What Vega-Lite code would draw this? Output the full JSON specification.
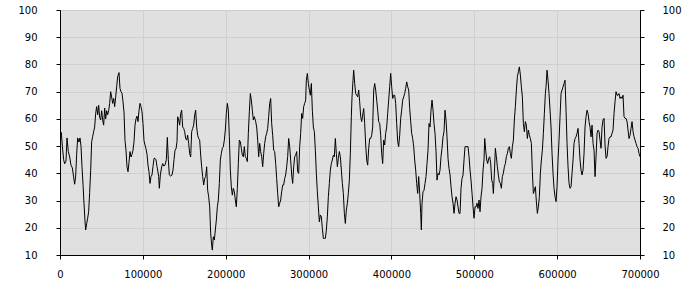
{
  "$schema": "https://vega.github.io/schema/vega-lite/v6.json",
  "width": 580,
  "height": 245,
  "autosize": "none",
  "padding": {"left": 60, "top": 10, "right": 60, "bottom": 45},
  "background": "#ffffff",
  "config": {
    "view": {"fill": "#e0e0e0", "stroke": "#000000", "strokeWidth": 1},
    "axis": {
      "labelFont": "DejaVu Sans",
      "labelFontSize": 10,
      "labelColor": "#000000",
      "domainColor": "#000000",
      "tickColor": "#000000",
      "tickSize": 4,
      "gridColor": "#cfcfcf",
      "gridWidth": 1,
      "gridOpacity": 1,
      "title": null
    }
  },
  "data": {"values": [
    {"x":0,"y":53},{"x":1600,"y":55},{"x":2816,"y":50},{"x":4425,"y":45},{"x":5632,"y":43.5},{"x":7240,"y":44.5},{"x":8450,"y":53},{"x":10060,"y":48},{"x":11670,"y":46},{"x":13275,"y":43},{"x":14885,"y":42},{"x":16490,"y":38.5},{"x":17700,"y":36},{"x":18910,"y":39},{"x":20120,"y":47},{"x":21320,"y":53},{"x":22930,"y":51.5},{"x":24140,"y":53},{"x":25340,"y":50},{"x":26550,"y":42.5},{"x":27760,"y":36},{"x":28960,"y":29},{"x":30170,"y":22.5},{"x":30980,"y":19.2},{"x":32180,"y":21.5},{"x":33390,"y":23.5},{"x":34600,"y":26},{"x":35800,"y":33},{"x":37010,"y":41},{"x":38220,"y":51.6},{"x":39420,"y":53.5},{"x":40630,"y":55.3},{"x":41840,"y":57},{"x":43040,"y":62},{"x":44250,"y":64.5},{"x":45460,"y":61.5},{"x":46670,"y":65},{"x":47870,"y":60.5},{"x":49080,"y":59.6},{"x":50290,"y":63},{"x":51490,"y":59.6},{"x":52700,"y":57.7},{"x":53910,"y":64},{"x":55110,"y":60},{"x":56320,"y":63},{"x":57530,"y":61.5},{"x":58740,"y":63},{"x":59940,"y":65.7},{"x":61150,"y":70},{"x":62360,"y":68},{"x":63560,"y":65.7},{"x":64770,"y":67.5},{"x":65980,"y":64.5},{"x":67180,"y":68},{"x":68390,"y":71.8},{"x":69600,"y":75.5},{"x":71210,"y":77},{"x":72410,"y":71.2},{"x":73620,"y":70},{"x":74830,"y":69.4},{"x":76030,"y":66.3},{"x":77240,"y":62.6},{"x":78450,"y":52},{"x":79650,"y":48.5},{"x":80860,"y":42.5},{"x":82070,"y":40.6},{"x":83270,"y":44},{"x":84480,"y":48},{"x":85690,"y":46},{"x":86900,"y":47},{"x":88100,"y":48.5},{"x":89310,"y":51.6},{"x":90520,"y":57.7},{"x":91720,"y":60},{"x":92930,"y":61},{"x":94140,"y":59},{"x":95340,"y":63},{"x":96550,"y":65.7},{"x":97760,"y":64.5},{"x":98960,"y":62.6},{"x":100170,"y":58.3},{"x":101380,"y":52},{"x":102580,"y":50.4},{"x":103790,"y":49},{"x":105000,"y":47},{"x":106200,"y":43},{"x":107410,"y":40.6},{"x":108620,"y":36.3},{"x":109830,"y":38.8},{"x":111030,"y":39.4},{"x":112240,"y":42.5},{"x":113450,"y":45.5},{"x":114650,"y":45.5},{"x":115860,"y":45},{"x":117070,"y":42.5},
    {"x":117880,"y":41.2},{"x":119090,"y":38.8},{"x":119890,"y":34.5},{"x":121100,"y":39.4},{"x":122710,"y":42.4},{"x":123910,"y":43.6},{"x":125120,"y":42.7},{"x":126730,"y":43},{"x":128340,"y":45},{"x":129550,"y":53.2},{"x":130750,"y":45},{"x":131960,"y":39.4},{"x":133570,"y":39},{"x":135180,"y":39.4},{"x":136380,"y":41.2},{"x":137590,"y":45},{"x":138800,"y":48.5},{"x":140000,"y":49},{"x":141210,"y":51.6},{"x":142020,"y":60.8},{"x":143220,"y":59.6},{"x":144430,"y":57.7},{"x":145640,"y":62},{"x":146840,"y":63.2},{"x":148050,"y":57},{"x":149260,"y":56.5},{"x":150460,"y":55.3},{"x":151670,"y":52.8},{"x":152880,"y":52.2},{"x":154080,"y":54},{"x":155290,"y":51},{"x":156500,"y":47.3},{"x":157710,"y":46},{"x":158910,"y":55.3},{"x":160120,"y":56.5},{"x":161330,"y":57.7},{"x":162530,"y":61.4},{"x":163740,"y":63.2},{"x":164950,"y":57},{"x":166150,"y":54},{"x":167360,"y":52.8},{"x":168570,"y":52.2},{"x":169780,"y":46.7},{"x":170980,"y":42.4},{"x":172190,"y":38.8},{"x":173400,"y":35.7},{"x":174600,"y":38.1},{"x":175810,"y":38.8},{"x":177020,"y":42.4},{"x":178220,"y":33.8},{"x":179430,"y":31.4},{"x":180640,"y":27.7},{"x":181840,"y":18},{"x":183050,"y":13.7},{"x":183860,"y":11.8},{"x":185060,"y":16.7},{"x":186270,"y":15.5},{"x":187480,"y":19.2},{"x":188680,"y":22.8},{"x":189890,"y":27.7},{"x":191100,"y":30.2},{"x":192300,"y":36.3},{"x":193510,"y":44.9},{"x":194720,"y":47.3},{"x":195930,"y":49.2},{"x":197130,"y":49.8},{"x":198340,"y":52.2},{"x":199550,"y":55.9},{"x":200750,"y":62},{"x":201960,"y":65.7},{"x":203170,"y":63.2},{"x":204370,"y":53.4},{"x":205580,"y":41.2},{"x":206790,"y":35},{"x":207990,"y":32},{"x":209200,"y":34.5},{"x":210410,"y":33.2},{"x":211610,"y":30.2},{"x":212820,"y":27.7},{"x":214030,"y":34.5},{"x":215240,"y":43.6},{"x":216440,"y":52.2},{"x":217650,"y":51.6},{"x":218860,"y":49.2},{"x":220060,"y":46.7},{"x":221270,"y":46.1},{"x":222480,"y":49.8},{"x":223680,"y":46.1},{"x":224890,"y":45.5},{"x":226100,"y":44.3},{"x":227300,"y":54.7},{"x":228510,"y":62.6},{"x":229720,"y":69.3},{"x":230930,"y":66.9},{"x":232130,"y":63.2},{"x":233340,"y":59.6},{"x":234550,"y":60.8},
    {"x":236170,"y":59},{"x":237370,"y":57},{"x":238580,"y":52.2},{"x":239790,"y":46.1},{"x":240990,"y":51},{"x":242200,"y":48},{"x":243410,"y":46.1},{"x":244610,"y":42.4},{"x":245820,"y":47.3},{"x":247030,"y":51},{"x":248230,"y":53.4},{"x":249440,"y":54.7},{"x":250650,"y":56.5},{"x":251860,"y":60.8},{"x":253060,"y":65.7},{"x":254270,"y":67.5},{"x":255480,"y":58.3},{"x":256680,"y":54},{"x":257890,"y":48.5},{"x":259100,"y":48},{"x":260300,"y":43.6},{"x":261510,"y":38.1},{"x":262720,"y":32.6},{"x":263920,"y":27.7},{"x":265130,"y":29},{"x":266340,"y":30.2},{"x":267540,"y":33.2},{"x":268750,"y":35.7},{"x":269960,"y":35.7},{"x":271170,"y":38.1},{"x":272370,"y":39.4},{"x":273580,"y":42.4},{"x":274790,"y":46.1},{"x":275990,"y":52.8},{"x":277200,"y":49.8},{"x":278410,"y":44.9},{"x":279610,"y":39.4},{"x":280820,"y":36.3},{"x":282030,"y":42.4},{"x":283230,"y":46.1},{"x":284440,"y":46.7},{"x":285650,"y":48},{"x":286860,"y":40.6},{"x":288060,"y":40},{"x":289270,"y":49.8},{"x":290480,"y":54.7},{"x":291680,"y":62},{"x":292890,"y":60.2},{"x":294100,"y":64.5},{"x":295300,"y":65.7},{"x":296510,"y":66.9},{"x":297310,"y":74.2},{"x":298520,"y":76.7},{"x":299730,"y":73},{"x":300930,"y":70.6},{"x":302140,"y":68.7},{"x":303350,"y":73},{"x":304550,"y":63.2},{"x":305760,"y":57},{"x":306970,"y":55.3},{"x":308180,"y":48.5},{"x":309380,"y":40},{"x":310590,"y":33.2},{"x":311800,"y":27.7},{"x":313000,"y":22.2},{"x":314210,"y":24.7},{"x":315420,"y":24},{"x":316620,"y":19.8},{"x":317830,"y":16.1},{"x":319040,"y":16.1},{"x":320250,"y":16.1},{"x":321450,"y":19.2},{"x":322660,"y":24},{"x":323870,"y":31.4},{"x":325070,"y":36.3},{"x":326280,"y":41.2},{"x":327490,"y":43.6},{"x":328690,"y":44.9},{"x":329900,"y":46.7},{"x":331110,"y":46.1},{"x":332310,"y":52.8},{"x":333520,"y":47.3},{"x":334730,"y":42.4},{"x":335940,"y":45.5},{"x":337140,"y":48},{"x":338350,"y":46.1},{"x":339560,"y":41.2},{"x":340760,"y":36.3},{"x":341970,"y":32.6},{"x":343180,"y":25.3},{"x":344380,"y":21.6},{"x":345590,"y":26.5},{"x":346800,"y":29},{"x":348000,"y":32.6},{"x":349210,"y":37.5},{"x":350420,"y":47.3},{"x":351620,"y":60.8},
    {"x":352440,"y":68.1},{"x":353650,"y":74.2},{"x":354450,"y":77.9},{"x":355660,"y":73},{"x":356870,"y":69.3},{"x":358070,"y":68.7},{"x":359280,"y":68.1},{"x":360490,"y":70.6},{"x":361690,"y":66.3},{"x":362900,"y":60.8},{"x":364110,"y":59},{"x":365310,"y":61.4},{"x":366520,"y":63.8},{"x":367730,"y":58.3},{"x":368940,"y":50.4},{"x":370140,"y":44.9},{"x":371350,"y":43},{"x":372560,"y":49.2},{"x":373760,"y":52.8},{"x":374970,"y":52.8},{"x":376180,"y":54},{"x":377380,"y":57},{"x":378590,"y":70.6},{"x":379800,"y":73},{"x":381000,"y":70.6},{"x":382210,"y":66.9},{"x":383420,"y":63.2},{"x":384620,"y":59},{"x":385830,"y":58.3},{"x":387040,"y":54},{"x":388240,"y":47.3},{"x":389450,"y":43.6},{"x":390660,"y":52.2},{"x":391870,"y":50.4},{"x":393070,"y":54.7},{"x":394280,"y":57},{"x":395490,"y":62},{"x":396690,"y":66.9},{"x":397900,"y":71.8},{"x":399110,"y":76.7},{"x":400310,"y":71.8},{"x":401520,"y":67.5},{"x":402730,"y":68.7},{"x":403930,"y":68.7},{"x":405140,"y":65.7},{"x":406350,"y":58.3},{"x":407560,"y":51.6},{"x":408760,"y":49.8},{"x":409970,"y":54},{"x":411180,"y":60.2},{"x":412380,"y":63.2},{"x":413590,"y":66.9},{"x":414800,"y":68.1},{"x":416000,"y":69.3},{"x":417210,"y":71.2},{"x":418420,"y":73.6},{"x":419620,"y":71.8},{"x":420830,"y":70.6},{"x":422040,"y":63.8},{"x":423250,"y":59},{"x":424450,"y":54.7},{"x":425660,"y":52.8},{"x":426870,"y":49.8},{"x":428070,"y":44.9},{"x":429280,"y":41.2},{"x":430490,"y":36.3},{"x":431690,"y":32.6},{"x":432900,"y":38.8},{"x":434110,"y":32.6},{"x":435310,"y":25.3},{"x":436120,"y":19.2},{"x":436920,"y":29},{"x":438130,"y":33.2},{"x":439340,"y":33.8},{"x":440540,"y":36.3},{"x":441750,"y":38.8},{"x":442960,"y":43.6},{"x":444160,"y":48.5},{"x":445370,"y":58.3},{"x":446580,"y":57},{"x":447780,"y":63.2},{"x":448990,"y":66.9},{"x":450200,"y":63.2},{"x":451410,"y":58.3},{"x":452610,"y":54.7},{"x":453820,"y":48},{"x":455030,"y":37.5},{"x":456230,"y":40},{"x":457440,"y":39.4},{"x":458650,"y":41.2},{"x":459850,"y":46.1},{"x":461060,"y":49.2},{"x":462270,"y":53.4},{"x":463470,"y":55.3},{"x":464680,"y":63.2},{"x":465890,"y":59.6},{"x":467090,"y":53.4},{"x":468300,"y":45.5},
    {"x":469520,"y":41.8},{"x":470730,"y":39.4},{"x":471930,"y":35.1},{"x":473140,"y":31.4},{"x":474350,"y":29},{"x":475560,"y":25.3},{"x":476760,"y":29},{"x":477970,"y":31.4},{"x":479180,"y":30.2},{"x":480380,"y":27.7},{"x":481590,"y":25.3},{"x":482800,"y":25.3},{"x":484000,"y":34.5},{"x":485210,"y":38.1},{"x":486420,"y":39.4},{"x":487620,"y":44.9},{"x":488830,"y":49.8},{"x":490040,"y":49.8},{"x":491240,"y":49.8},{"x":492450,"y":49.8},{"x":493660,"y":46.1},{"x":494870,"y":41.2},{"x":496070,"y":37.5},{"x":497280,"y":32.6},{"x":498490,"y":27.7},{"x":499690,"y":23.5},{"x":500900,"y":27.7},{"x":502110,"y":27.7},{"x":503310,"y":29},{"x":504520,"y":27.1},{"x":505730,"y":30.2},{"x":506930,"y":25.9},{"x":508140,"y":31.4},{"x":509350,"y":34.5},{"x":510560,"y":41.2},{"x":511760,"y":44.9},{"x":512570,"y":52.8},{"x":513770,"y":48.5},{"x":514980,"y":44.9},{"x":516190,"y":43.6},{"x":517390,"y":45.5},{"x":518600,"y":46.1},{"x":519810,"y":43.6},{"x":521010,"y":37.5},{"x":522220,"y":36.3},{"x":523030,"y":32.6},{"x":524230,"y":40},{"x":525440,"y":49.2},{"x":526650,"y":46.1},{"x":527850,"y":42.4},{"x":529060,"y":39.4},{"x":530270,"y":36.9},{"x":531470,"y":36.3},{"x":532680,"y":34.5},{"x":533890,"y":38.8},{"x":535100,"y":40},{"x":536300,"y":42.4},{"x":537510,"y":43.6},{"x":538720,"y":46.1},{"x":539920,"y":47.3},{"x":541130,"y":49.2},{"x":542340,"y":49.8},{"x":543540,"y":47.3},{"x":544750,"y":45.5},{"x":545960,"y":49.8},{"x":547160,"y":52.2},{"x":548370,"y":59.6},{"x":549580,"y":64.5},{"x":550790,"y":70.6},{"x":551990,"y":75.5},{"x":553200,"y":77.3},{"x":554410,"y":79.1},{"x":555610,"y":76.1},{"x":556820,"y":71.8},{"x":558030,"y":68.1},{"x":559230,"y":58.3},{"x":560440,"y":55.3},{"x":561650,"y":59},{"x":562850,"y":57.7},{"x":564060,"y":52.8},{"x":565270,"y":55.9},{"x":566480,"y":54},{"x":567680,"y":52.8},{"x":568890,"y":51},{"x":570100,"y":40.6},{"x":571300,"y":32.6},{"x":572510,"y":33.8},{"x":573720,"y":35.1},{"x":574920,"y":29.6},{"x":576130,"y":25.3},{"x":577340,"y":27.7},{"x":578540,"y":31.4},{"x":579750,"y":40},{"x":580960,"y":44.9},{"x":582160,"y":48.5},{"x":583370,"y":54.7},{"x":584580,"y":62},{"x":585780,"y":69.3},
    {"x":586600,"y":71.8},{"x":587810,"y":77.9},{"x":589010,"y":74.2},{"x":590220,"y":69.3},{"x":591430,"y":63.2},{"x":592640,"y":57},{"x":593840,"y":47.3},{"x":595050,"y":40},{"x":596260,"y":34.5},{"x":597460,"y":31.4},{"x":598670,"y":29.6},{"x":599880,"y":35.1},{"x":601080,"y":44.9},{"x":602290,"y":52.2},{"x":603500,"y":60.8},{"x":604700,"y":69.3},{"x":605910,"y":70.6},{"x":607120,"y":71.8},{"x":608330,"y":73},{"x":609530,"y":74.2},{"x":610740,"y":63.2},{"x":611950,"y":51},{"x":613150,"y":42.4},{"x":614360,"y":36.3},{"x":615570,"y":34.5},{"x":616770,"y":35.1},{"x":617980,"y":40},{"x":619190,"y":44.9},{"x":620390,"y":51},{"x":621600,"y":52.8},{"x":622810,"y":53.4},{"x":624020,"y":54.7},{"x":625220,"y":56.5},{"x":626430,"y":51},{"x":627640,"y":44.9},{"x":628840,"y":41.2},{"x":630050,"y":39.4},{"x":631260,"y":41.2},{"x":632460,"y":47.3},{"x":633670,"y":57},{"x":634880,"y":60.8},{"x":636080,"y":63.2},{"x":637290,"y":62},{"x":638500,"y":59},{"x":639710,"y":57},{"x":640910,"y":53.4},{"x":642120,"y":57.7},{"x":643330,"y":51},{"x":644530,"y":48.5},{"x":645740,"y":38.8},{"x":646950,"y":46.1},{"x":648150,"y":54.7},{"x":649360,"y":55.9},{"x":650570,"y":55.3},{"x":651780,"y":52.2},{"x":652980,"y":49.2},{"x":654190,"y":57},{"x":655400,"y":59.6},{"x":656600,"y":60.2},{"x":657810,"y":50.4},{"x":659020,"y":45.5},{"x":660220,"y":46.1},{"x":661430,"y":49.8},{"x":662640,"y":52.8},{"x":663840,"y":53.4},{"x":665050,"y":53.4},{"x":666260,"y":54.7},{"x":667460,"y":55.9},{"x":668670,"y":62},{"x":669880,"y":66.3},{"x":671080,"y":70},{"x":672290,"y":68.7},{"x":673500,"y":68.7},{"x":674710,"y":69.3},{"x":675910,"y":67.5},{"x":677120,"y":68.1},{"x":678330,"y":67.5},{"x":679530,"y":68.7},{"x":680740,"y":60.8},{"x":681950,"y":60.2},{"x":683150,"y":60.2},{"x":684360,"y":59},{"x":685570,"y":55.9},{"x":686770,"y":52.8},{"x":687980,"y":54},{"x":689190,"y":56.5},{"x":690390,"y":59},{"x":691600,"y":55.3},{"x":692810,"y":53.4},{"x":694010,"y":52.2},{"x":695220,"y":51},{"x":696430,"y":49.8},{"x":697630,"y":49.2},{"x":698840,"y":47.3},{"x":700000,"y":46.1}
  ]},
  "layer": [
    {
      "mark": {"type": "line", "color": "#000000", "strokeWidth": 1, "clip": true},
      "encoding": {
        "x": {
          "field": "x", "type": "quantitative",
          "scale": {"domain": [0, 700000], "nice": false, "zero": false},
          "axis": {"values": [0, 100000, 200000, 300000, 400000, 500000, 600000, 700000], "format": "d", "labelPadding": 10, "grid": true, "labelFlush": false}
        },
        "y": {
          "field": "y", "type": "quantitative",
          "scale": {"domain": [10, 100], "nice": false, "zero": false},
          "axis": {"orient": "left", "values": [10, 20, 30, 40, 50, 60, 70, 80, 90, 100], "labelPadding": 19, "grid": true}
        }
      }
    },
    {
      "mark": {"type": "line", "opacity": 0},
      "encoding": {
        "x": {"field": "x", "type": "quantitative", "scale": {"domain": [0, 700000], "nice": false, "zero": false}},
        "y": {
          "field": "y", "type": "quantitative",
          "scale": {"domain": [10, 100], "nice": false, "zero": false},
          "axis": {"orient": "right", "values": [10, 20, 30, 40, 50, 60, 70, 80, 90, 100], "labelPadding": 18, "grid": false}
        }
      }
    }
  ],
  "resolve": {"scale": {"y": "independent"}}
}
